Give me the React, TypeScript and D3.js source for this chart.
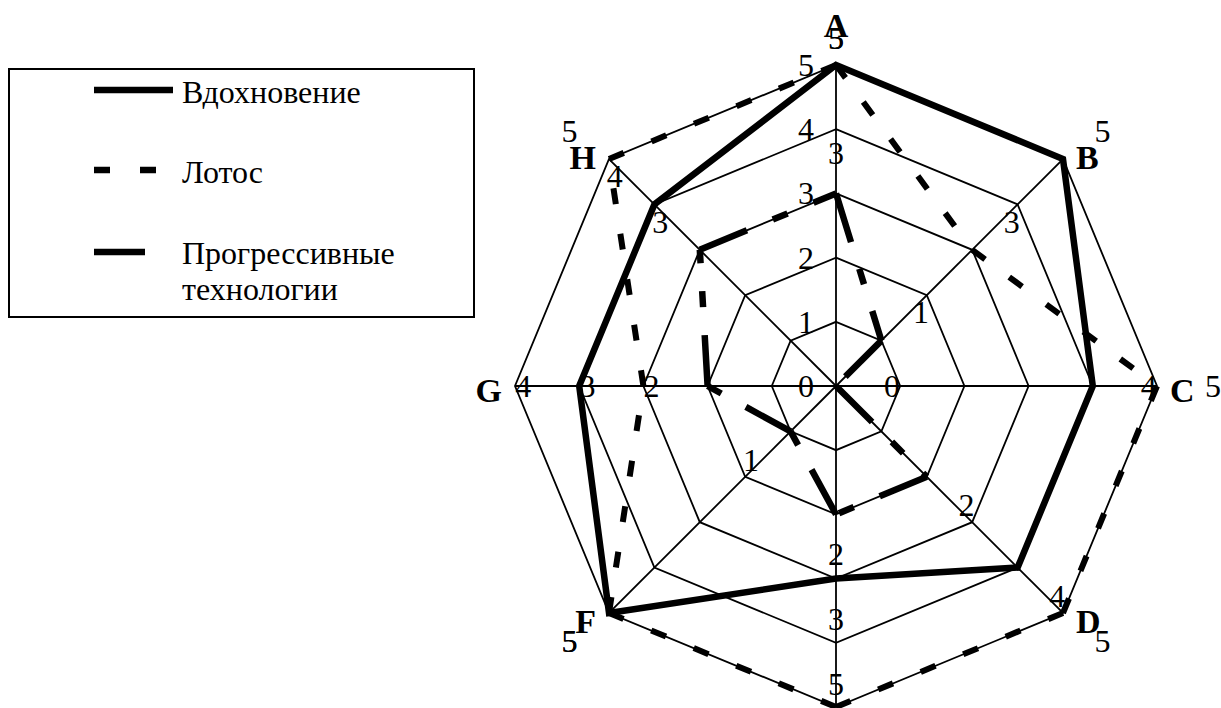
import { useEffect, useRef } from 'react';
import * as d3 from 'd3';

// Chart data
const categories = ['A', 'B', 'C', 'D', 'E', 'F', 'G', 'H'];
const inspiration = [5, 5, 4, 4, 3, 5, 4, 4];
const lotus = [5, 3, 5, 5, 5, 5, 3, 5];
const progressive = [3, 1, 0, 2, 2, 1, 2, 3];
const seriesNames = ['Вдохновение', 'Лотос', 'Прогрессивные технологии'];
const ticks = [0, 1, 2, 3, 4, 5];

const WIDTH = 1221;
const HEIGHT = 708;
const CX = 836;
const CY = 386;
const RADIUS = 321;
const FONT = '"Times New Roman", "Liberation Serif", serif';

function RadarChart() {
    const ref = useRef<SVGSVGElement>(null);

    const draw = () => {
        const svg = d3.select(ref.current);
        svg.selectAll('*').remove();

        const r = d3.scaleLinear().domain([0, 5]).range([0, RADIUS]);
        const angle = d3.scalePoint<string>()
            .domain(categories)
            .range([0, (Math.PI * 2 * 7) / 8]);

        const pt = (cat: string, v: number): [number, number] => {
            const a = angle(cat) as number;
            return [CX + r(v) * Math.sin(a), CY - r(v) * Math.cos(a)];
        };

        svg.append('rect').attr('width', WIDTH).attr('height', HEIGHT).attr('fill', '#fff');

        // Grid rings and spokes
        const grid = svg.append('g').attr('stroke', '#000').attr('stroke-width', 1.8).attr('fill', 'none');
        ticks.filter(t => t > 0).forEach(t => {
            grid.append('path')
                .attr('d', d3.line()(categories.map(c => pt(c, t))) + 'Z')
                .attr('stroke-linejoin', 'miter');
        });
        categories.forEach(c => {
            const [x, y] = pt(c, 5);
            grid.append('line').attr('x1', CX).attr('y1', CY).attr('x2', x).attr('y2', y);
        });

        // Series
        const series = [
            { values: inspiration, dash: null as string | null, width: 6.5 },
            { values: lotus, dash: '16 30', width: 6 },
            { values: progressive, dash: '51 28 16 28', width: 6.5 }
        ];

        series.forEach(s => {
            const g = svg.append('g').attr('stroke', '#000').attr('fill', 'none');
            if (s.dash === null) {
                g.append('path')
                    .attr('d', d3.line()(categories.map((c, i) => pt(c, s.values[i]))) + 'Z')
                    .attr('stroke-width', s.width)
                    .attr('stroke-linejoin', 'miter');
            } else {
                // dash pattern restarts at every vertex
                categories.forEach((c, i) => {
                    const j = (i + 1) % categories.length;
                    const [x1, y1] = pt(c, s.values[i]);
                    const [x2, y2] = pt(categories[j], s.values[j]);
                    g.append('line')
                        .attr('x1', x1).attr('y1', y1).attr('x2', x2).attr('y2', y2)
                        .attr('stroke-width', s.width)
                        .attr('stroke-dasharray', s.dash);
                });
            }
        });

        // Value axis labels along A spoke
        svg.append('g')
            .selectAll('text')
            .data(ticks)
            .enter()
            .append('text')
            .attr('x', CX - 22)
            .attr('y', t => CY - r(t))
            .attr('text-anchor', 'end')
            .attr('dominant-baseline', 'central')
            .attr('font-family', FONT)
            .attr('font-size', 32)
            .text(t => String(t));

        // Data labels
        const labels = svg.append('g').attr('font-family', FONT).attr('font-size', 32);
        series.forEach(s => {
            categories.forEach((c, i) => {
                const a = angle(c) as number;
                const [x, y] = pt(c, s.values[i]);
                const ly = Math.max(38, Math.min(684, y - 40 * Math.cos(a)));
                labels.append('text')
                    .attr('x', x + 56 * Math.sin(a))
                    .attr('y', ly)
                    .attr('text-anchor', 'middle')
                    .attr('dominant-baseline', 'central')
                    .text(String(s.values[i]));
            });
        });

        // Category labels (the bottom one falls outside the frame, as in the original)
        const cats = svg.append('g').attr('font-family', FONT).attr('font-size', 34).attr('font-weight', 'bold');
        categories.forEach(c => {
            const a = angle(c) as number;
            const [x, y] = pt(c, 5);
            const s = Math.sin(a);
            const co = Math.cos(a);
            let anchor = 'middle';
            let dx = 0;
            if (s > 0.1) { anchor = 'start'; dx = 13; }
            if (s < -0.1) { anchor = 'end'; dx = -13; }
            let dy = 4;
            if (co > 0.9) dy = -40;
            else if (co < -0.9) dy = 30;
            else if (co > 0.5) dy = -2;
            else if (co < -0.5) dy = 9;
            if (y + dy - 12 > HEIGHT) return;
            cats.append('text')
                .attr('x', x + dx)
                .attr('y', y + dy)
                .attr('text-anchor', anchor)
                .attr('dominant-baseline', 'central')
                .text(c);
        });

        // Legend
        const legend = svg.append('g').attr('font-family', FONT).attr('font-size', 32);
        legend.append('rect')
            .attr('x', 9).attr('y', 69).attr('width', 465).attr('height', 248)
            .attr('fill', 'none').attr('stroke', '#000').attr('stroke-width', 2);

        const legendRows = [
            { name: seriesNames[0], lineY: 90, x2: 173, dash: null as string | null, lines: [103] },
            { name: seriesNames[1], lineY: 170, x2: 156, dash: series[1].dash, lines: [183] },
            { name: seriesNames[2], lineY: 252, x2: 145, dash: series[2].dash, lines: [264, 300] }
        ];
        legendRows.forEach(row => {
            const l = legend.append('line')
                .attr('x1', 94).attr('x2', row.x2)
                .attr('y1', row.lineY).attr('y2', row.lineY)
                .attr('stroke', '#000').attr('stroke-width', 6.5);
            if (row.dash) l.attr('stroke-dasharray', row.dash);
            const words = row.lines.length > 1 ? row.name.split(' ') : [row.name];
            words.forEach((w, k) => {
                legend.append('text')
                    .attr('x', 182)
                    .attr('y', row.lines[k])
                    .text(w);
            });
        });
    };

    useEffect(() => draw(), []);

    return (
        <svg
            ref={ref}
            width={WIDTH}
            height={HEIGHT}
            style={{ position: 'absolute', left: 0, top: 0, display: 'block' }}
        />
    );
}

export default function App() {
    return <RadarChart />;
}
